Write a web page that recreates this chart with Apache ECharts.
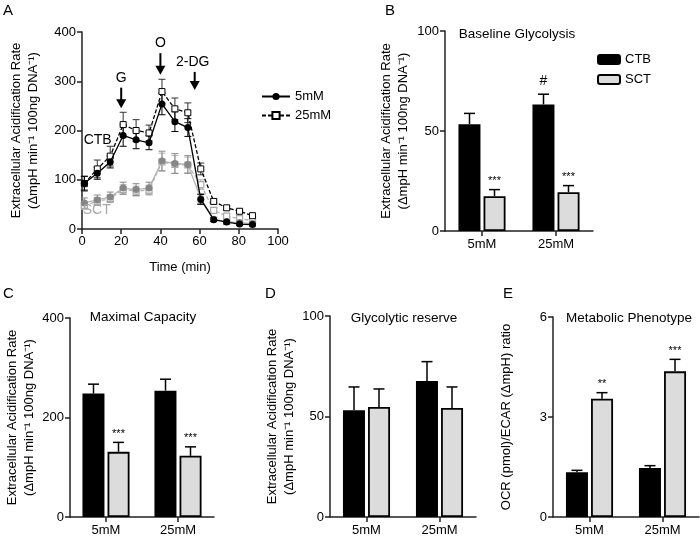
<!DOCTYPE html>
<html><head><meta charset="utf-8">
<script src="https://cdn.jsdelivr.net/npm/echarts@6/dist/echarts.min.js"></script>
<style>html,body{margin:0;padding:0;background:#fff}#c{width:700px;height:537px}</style>
</head><body><div id="c"></div>
<script>
// ---- Panel A: time course ----
const timeA = [1.2, 7.8, 14.4, 21.0, 27.6, 34.2, 40.8, 47.4, 54.0, 60.6, 67.2, 73.8, 80.4, 87.0];
const ctb5 = [93, 113, 136, 190, 181, 175, 254, 218, 206, 60, 19, 14, 10, 9];
const ctb5Err = [14, 12, 12, 22, 18, 14, 22, 20, 18, 10, 4, 4, 3, 3];
const ctb25 = [92, 122, 148, 212, 200, 195, 279, 244, 236, 122, 56, 43, 36, 27];
const ctb25Err = [15, 18, 20, 25, 22, 16, 25, 22, 20, 12, 5, 4, 4, 4];
const sct5 = [53, 59, 65, 83, 80, 83, 138, 133, 131, 62, 20, 15, 13, 11];
const sct5Err = [10, 10, 10, 12, 12, 12, 20, 20, 18, 10, 4, 3, 3, 3];
const sct25 = [48, 56, 62, 80, 77, 79, 136, 131, 130, 90, 38, 26, 21, 17];
const sct25Err = [8, 8, 8, 10, 10, 10, 18, 18, 16, 10, 5, 4, 4, 3];
const xTicksA = [0, 20, 40, 60, 80, 100];
const yTicksA = [0, 100, 200, 300, 400];
const arrowsA = [ // label, time, arrow top value, arrow bottom value
  {label: 'G', t: 20, from: 287, to: 245},
  {label: 'O', t: 40, from: 357, to: 313},
  {label: '2-DG', t: 57.5, from: 319, to: 282}
];
const groupLabelsA = [{text: 'CTB', t: 8, v: 181, color: '#000'}, {text: 'SCT', t: 7.5, v: 38, color: '#a8a8a8'}];

// ---- Bar panels ----
const cats = ['5mM', '25mM'];
const bCTB = [53.4, 63.3], bCTBErr = [5.4, 5.1], bSCT = [17.4, 19.4], bSCTErr = [3.3, 3.3];
const bCTBSig = ['', '#'], bSCTSig = ['***', '***'];
const cCTB = [248, 254], cCTBErr = [19, 23], cSCT = [131, 123], cSCTErr = [19, 18];
const cCTBSig = ['', ''], cSCTSig = ['***', '***'];
const dCTB = [53.1, 67.7], dCTBErr = [11.6, 9.6], dSCT = [54.7, 54.2], dSCTErr = [9.0, 10.5];
const dCTBSig = ['', ''], dSCTSig = ['', ''];
const eCTB = [1.34, 1.47], eCTBErr = [0.06, 0.07], eSCT = [3.55, 4.37], eSCTErr = [0.18, 0.36];
const eCTBSig = ['', ''], eSCTSig = ['**', '***'];

const FONT = 'Liberation Sans, Arial, sans-serif';
const AX = '#222';
const ecarName = 'Extracellular Acidification Rate\n(ΔmpH min⁻¹ 100ng DNA⁻¹)';

const chart = echarts.init(document.getElementById('c'), null, {renderer: 'canvas'});

function lineErr(color) {
  return function (params, api) {
    const x = api.value(0), y = api.value(1), e = api.value(2);
    const hi = api.coord([x, y + e]), lo = api.coord([x, y - e]);
    const cw = 3.5, st = {stroke: color, lineWidth: 1};
    return {type: 'group', children: [
      {type: 'line', shape: {x1: hi[0], y1: hi[1], x2: lo[0], y2: lo[1]}, style: st},
      {type: 'line', shape: {x1: hi[0] - cw, y1: hi[1], x2: hi[0] + cw, y2: hi[1]}, style: st},
      {type: 'line', shape: {x1: lo[0] - cw, y1: lo[1], x2: lo[0] + cw, y2: lo[1]}, style: st}
    ]};
  };
}
function barErr(offset, sig) {
  return function (params, api) {
    const c = api.value(0), v = api.value(1), e = api.value(2);
    const p = api.coord([c, v]), q = api.coord([c, v + e]);
    const x = p[0] + offset, st = {stroke: '#000', lineWidth: 1.5};
    const s = sig[params.dataIndex];
    const ch = [
      {type: 'line', shape: {x1: x, y1: p[1], x2: x, y2: q[1]}, style: st},
      {type: 'line', shape: {x1: x - 5.5, y1: q[1], x2: x + 5.5, y2: q[1]}, style: st}
    ];
    if (s) ch.push({type: 'text', x: x, y: q[1] - (s === '#' ? 6 : 3), style: {text: s, textAlign: 'center', textVerticalAlign: 'bottom', fontSize: s === '#' ? 14 : 11, fontFamily: FONT, fill: '#000'}});
    return {type: 'group', children: ch};
  };
}

const grids = [
  {left: 82, top: 32, width: 196, height: 197},
  {left: 445, top: 31, width: 148, height: 200},
  {left: 70, top: 318, width: 144, height: 199},
  {left: 330, top: 316, width: 146, height: 201},
  {left: 553, top: 317, width: 146, height: 200}
];
const axLine = {lineStyle: {color: AX, width: 1.5}};
const axTick = {show: true, inside: false, length: 5, lineStyle: {color: AX, width: 1.5}};
const axLabel = {color: '#000', fontSize: 13, fontFamily: FONT};

const xAxes = [
  {gridIndex: 0, type: 'value', min: xTicksA[0], max: xTicksA[xTicksA.length - 1], interval: 20,
   axisLine: axLine, axisTick: axTick, axisLabel: Object.assign({margin: 6}, axLabel), splitLine: {show: false},
   name: 'Time (min)', nameLocation: 'middle', nameGap: 32, nameTextStyle: {fontSize: 13, fontFamily: FONT, color: '#000'}}
];
const yAxes = [
  {gridIndex: 0, type: 'value', min: yTicksA[0], max: yTicksA[yTicksA.length - 1], interval: 100,
   axisLine: Object.assign({show: true}, axLine), axisTick: axTick, axisLabel: Object.assign({margin: 6}, axLabel), splitLine: {show: false},
   name: ecarName, nameLocation: 'middle', nameGap: 40, nameTextStyle: {fontSize: 13, fontFamily: FONT, color: '#000', lineHeight: 17}}
];
const barPanels = [
  {ctb: bCTB, ctbE: bCTBErr, sct: bSCT, sctE: bSCTErr, cs: bCTBSig, ss: bSCTSig, max: 100, iv: 50, name: ecarName, gap: 33},
  {ctb: cCTB, ctbE: cCTBErr, sct: cSCT, sctE: cSCTErr, cs: cCTBSig, ss: cSCTSig, max: 400, iv: 200, name: ecarName, gap: 31},
  {ctb: dCTB, ctbE: dCTBErr, sct: dSCT, sctE: dSCTErr, cs: dCTBSig, ss: dSCTSig, max: 100, iv: 50, name: ecarName, gap: 29},
  {ctb: eCTB, ctbE: eCTBErr, sct: eSCT, sctE: eSCTErr, cs: eCTBSig, ss: eSCTSig, max: 6, iv: 3, name: 'OCR (pmol)/ECAR (ΔmpH) ratio', gap: 38}
];

const series = [];
// Panel A error bars (under lines)
[[sct25, sct25Err, '#b0b0b0'], [sct5, sct5Err, '#8a8a8a'], [ctb25, ctb25Err, '#333'], [ctb5, ctb5Err, '#000']].forEach(function (s) {
  series.push({type: 'custom', xAxisIndex: 0, yAxisIndex: 0, z: 1, silent: true,
    renderItem: lineErr(s[2]), data: timeA.map(function (t, i) { return [t, s[0][i], s[1][i]]; })});
});
series.push(
  {name: 'SCT 25mM', type: 'line', xAxisIndex: 0, yAxisIndex: 0, z: 2, data: timeA.map(function (t, i) { return [t, sct25[i]]; }),
   symbol: 'rect', symbolSize: 6, lineStyle: {color: '#b4b4b4', width: 1.3, type: [4, 2]}, itemStyle: {color: '#fff', borderColor: '#a8a8a8', borderWidth: 1.2}},
  {name: 'SCT 5mM', type: 'line', xAxisIndex: 0, yAxisIndex: 0, z: 3, data: timeA.map(function (t, i) { return [t, sct5[i]]; }),
   symbol: 'circle', symbolSize: 7, lineStyle: {color: '#b4b4b4', width: 1.3}, itemStyle: {color: '#868686', borderColor: '#868686', borderWidth: 0}},
  {name: '25mM', type: 'line', xAxisIndex: 0, yAxisIndex: 0, z: 4, data: timeA.map(function (t, i) { return [t, ctb25[i]]; }),
   symbol: 'rect', symbolSize: 6, lineStyle: {color: '#000', width: 1.3, type: [4, 2]}, itemStyle: {color: '#fff', borderColor: '#000', borderWidth: 1}},
  {name: '5mM', type: 'line', xAxisIndex: 0, yAxisIndex: 0, z: 5, data: timeA.map(function (t, i) { return [t, ctb5[i]]; }),
   symbol: 'circle', symbolSize: 7, lineStyle: {color: '#000', width: 1.3}, itemStyle: {color: '#000', borderColor: '#000', borderWidth: 0}}
);
// Panel A annotations: arrows and text
series.push({type: 'custom', xAxisIndex: 0, yAxisIndex: 0, z: 6, silent: true, data: arrowsA.map(function (a) { return [a.t, a.from, a.to]; }),
  renderItem: function (params, api) {
    const a = api.coord([api.value(0), api.value(1)]), b = api.coord([api.value(0), api.value(2)]);
    const lab = arrowsA[params.dataIndex].label;
    return {type: 'group', children: [
      {type: 'line', shape: {x1: a[0], y1: a[1], x2: b[0], y2: b[1] - 7}, style: {stroke: '#000', lineWidth: 2}},
      {type: 'polygon', shape: {points: [[b[0] - 5, b[1] - 9], [b[0] + 5, b[1] - 9], [b[0], b[1]]]}, style: {fill: '#000'}},
      {type: 'text', x: a[0] + (lab === '2-DG' ? -2 : 0), y: a[1] - 3, style: {text: lab, textAlign: 'center', textVerticalAlign: 'bottom', fontSize: 14, fontFamily: FONT, fill: '#000'}}
    ]};
  }});
series.push({type: 'custom', xAxisIndex: 0, yAxisIndex: 0, z: 6, silent: true, data: groupLabelsA.map(function (g) { return [g.t, g.v]; }),
  renderItem: function (params, api) {
    const p = api.coord([api.value(0), api.value(1)]), g = groupLabelsA[params.dataIndex];
    return {type: 'text', x: p[0], y: p[1], style: {text: g.text, textAlign: 'center', textVerticalAlign: 'middle', fontSize: 14, fontFamily: FONT, fill: g.color}};
  }});

barPanels.forEach(function (bp, k) {
  const gi = k + 1;
  xAxes.push({gridIndex: gi, type: 'category', data: cats, axisLine: axLine,
    axisTick: Object.assign({alignWithLabel: true}, axTick), axisLabel: Object.assign({margin: 7}, axLabel)});
  yAxes.push({gridIndex: gi, type: 'value', min: 0, max: bp.max, interval: bp.iv,
    axisLine: Object.assign({show: true}, axLine), axisTick: axTick, axisLabel: Object.assign({margin: 6}, axLabel), splitLine: {show: false},
    name: bp.name, nameLocation: 'middle', nameGap: bp.gap, nameTextStyle: {fontSize: 13, fontFamily: FONT, color: '#000', lineHeight: 17}});
  series.push(
    {name: 'CTB', type: 'bar', xAxisIndex: gi, yAxisIndex: gi, data: bp.ctb, barWidth: 22, barGap: '14%',
     itemStyle: {color: '#000', borderColor: '#000', borderWidth: 1.5}},
    {name: 'SCT', type: 'bar', xAxisIndex: gi, yAxisIndex: gi, data: bp.sct, barWidth: 22, barGap: '14%',
     itemStyle: {color: '#dcdcdc', borderColor: '#000', borderWidth: 1.8}},
    {type: 'custom', xAxisIndex: gi, yAxisIndex: gi, z: 3, silent: true, renderItem: barErr(-12.5, bp.cs),
     data: bp.ctb.map(function (v, i) { return [i, v, bp.ctbE[i]]; })},
    {type: 'custom', xAxisIndex: gi, yAxisIndex: gi, z: 3, silent: true, renderItem: barErr(12.5, bp.ss),
     data: bp.sct.map(function (v, i) { return [i, v, bp.sctE[i]]; })}
  );
});

function txt(x, y, text, size, align) {
  return {type: 'text', x: x, y: y, style: {text: text, fontSize: size, fontFamily: FONT, fill: '#000', textAlign: align || 'left', textVerticalAlign: 'top'}};
}

chart.setOption({
  animation: false,
  textStyle: {fontFamily: FONT},
  grid: grids,
  xAxis: xAxes,
  yAxis: yAxes,
  legend: [
    {data: ['5mM', '25mM'], left: 256, top: 85, orient: 'vertical', itemWidth: 28, itemHeight: 9, itemGap: 6,
     textStyle: {fontSize: 13, fontFamily: FONT, color: '#000'}},
    {data: ['CTB', 'SCT'], left: 592, top: 48, orient: 'vertical', itemWidth: 22, itemHeight: 9, itemGap: 7,
     textStyle: {fontSize: 13, fontFamily: FONT, color: '#000'}}
  ],
  graphic: [
    txt(3, 3, 'A', 15), txt(385, 3, 'B', 15), txt(3, 286, 'C', 15), txt(265, 286, 'D', 15), txt(503, 286, 'E', 15),
    txt(517, 27, 'Baseline Glycolysis', 13.5, 'center'),
    txt(143, 310, 'Maximal Capacity', 13.5, 'center'),
    txt(404, 311, 'Glycolytic reserve', 13.5, 'center'),
    txt(629, 311, 'Metabolic Phenotype', 13.5, 'center')
  ],
  series: series
});
</script></body></html>
